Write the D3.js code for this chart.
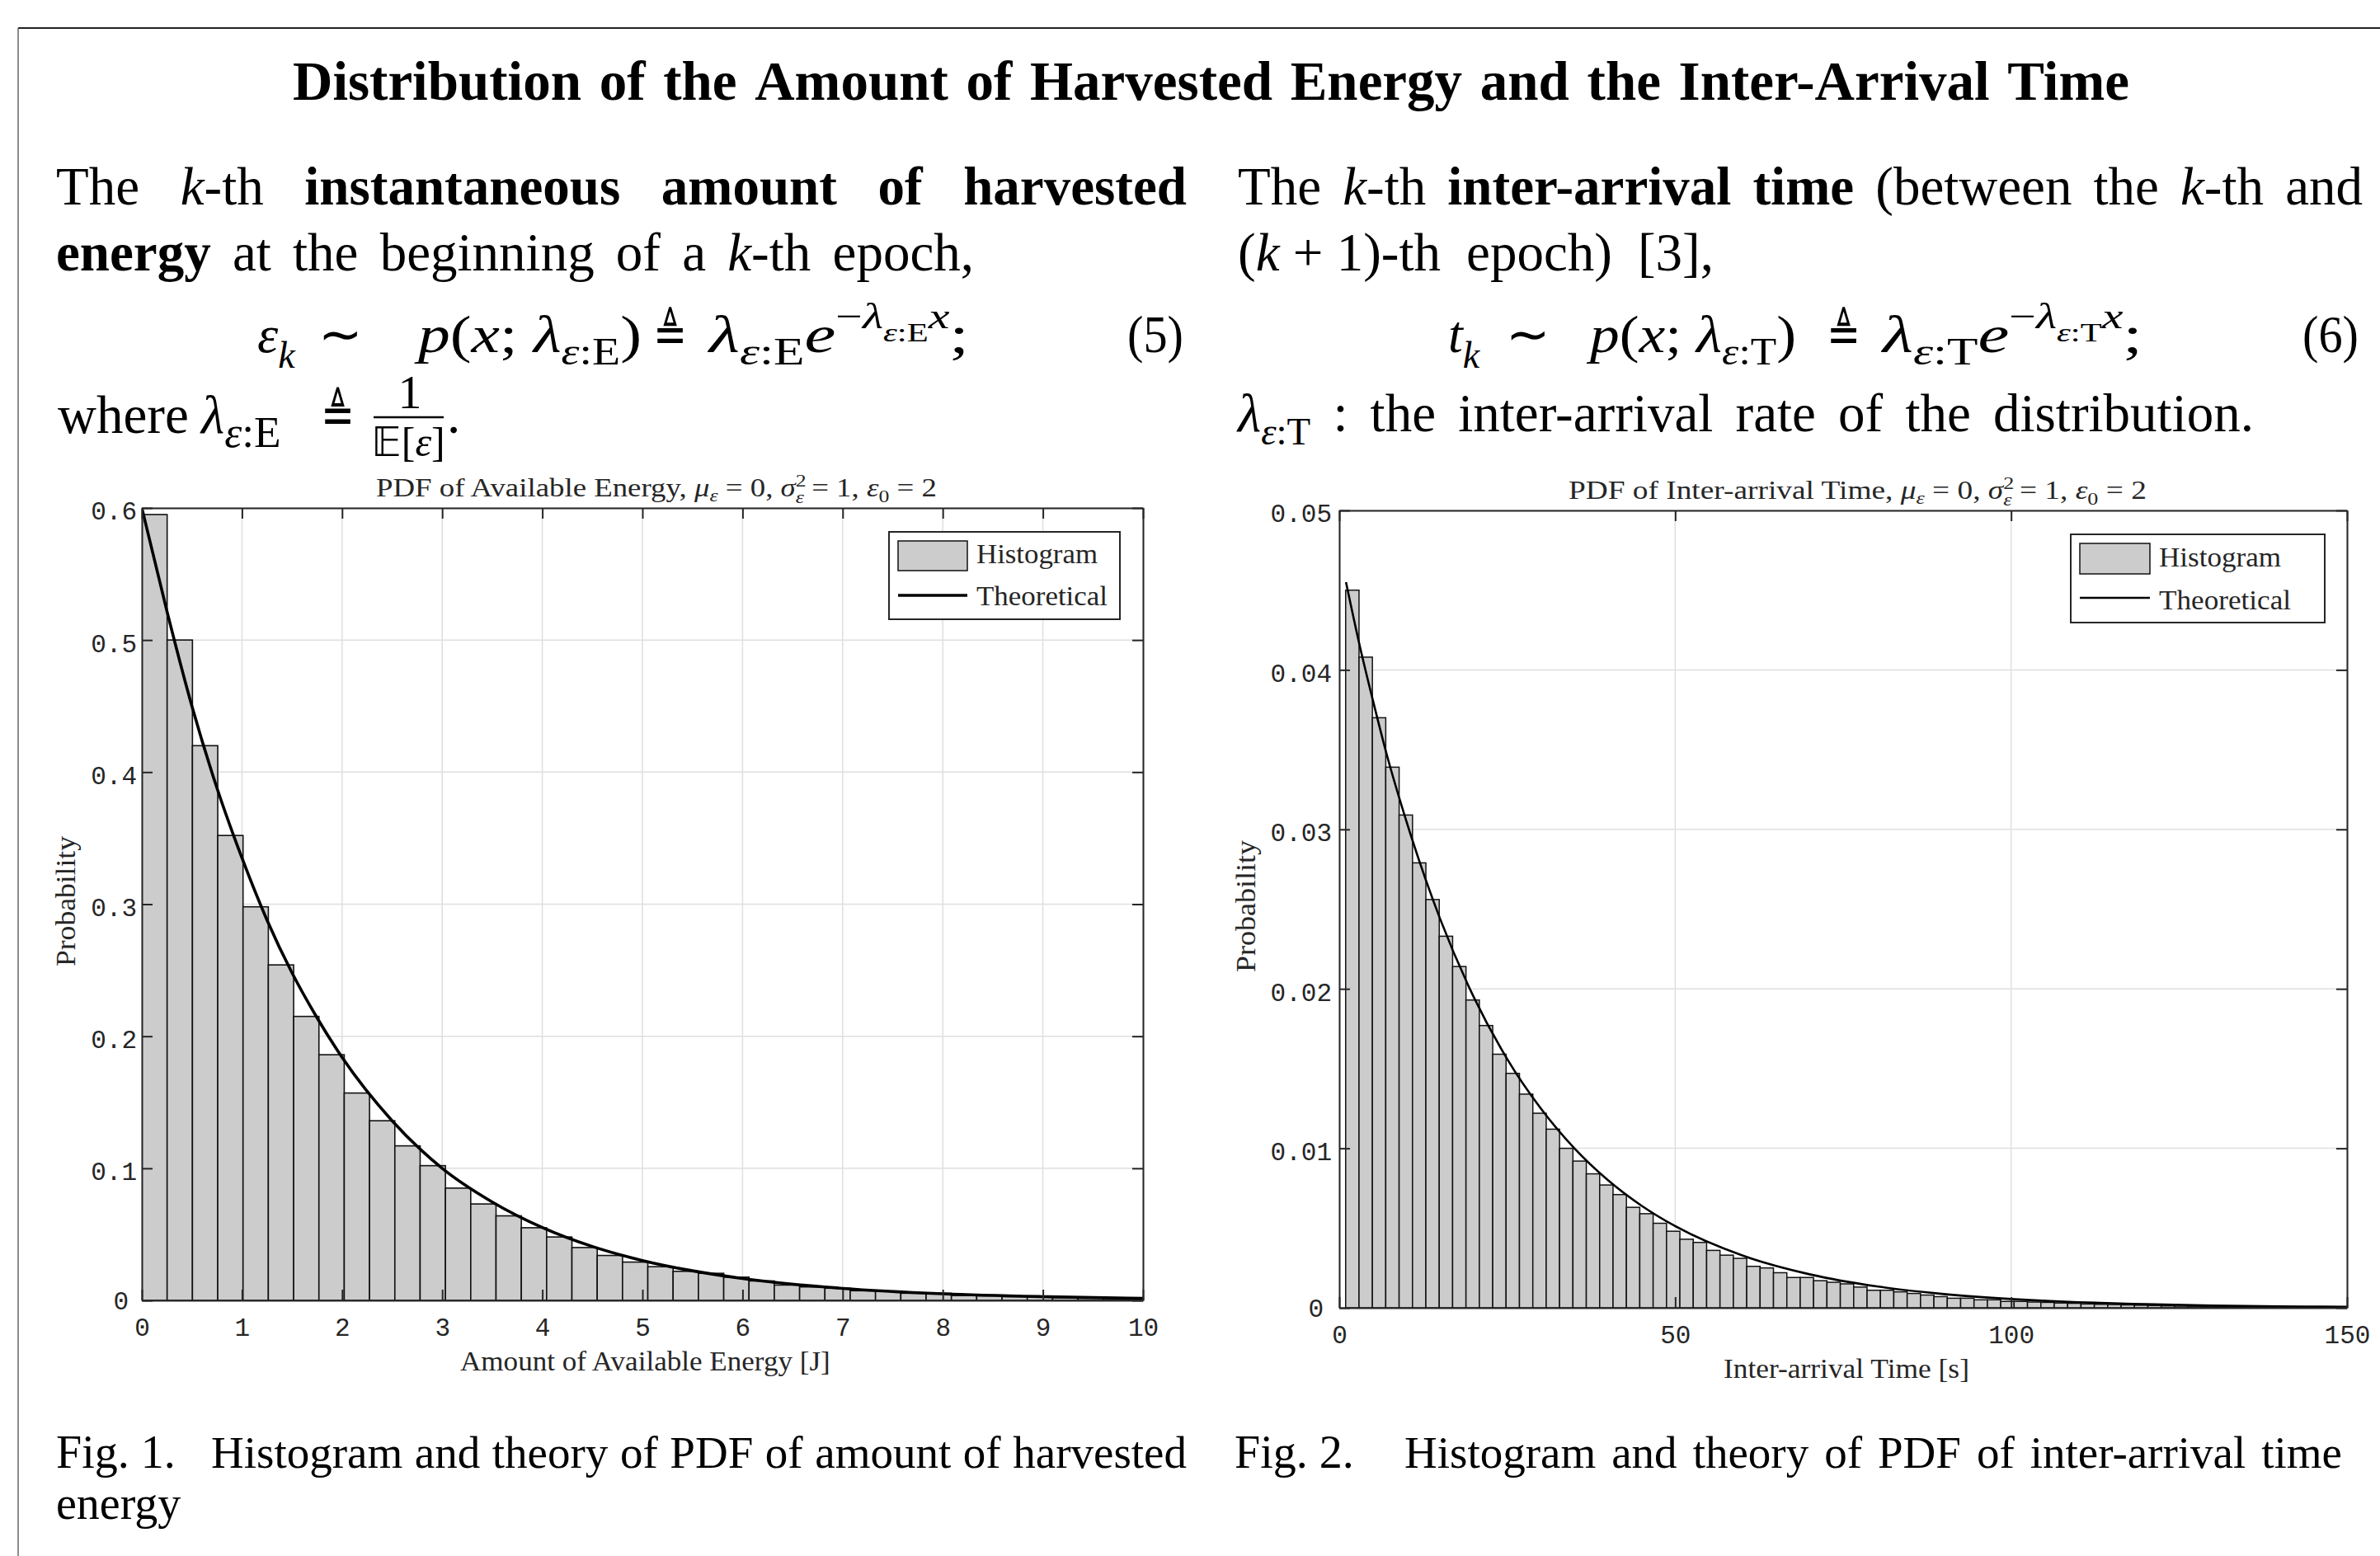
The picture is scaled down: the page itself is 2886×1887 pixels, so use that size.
<!DOCTYPE html>
<html><head><meta charset="utf-8">
<script src="https://cdn.jsdelivr.net/npm/d3@7"></script>
<style>body{margin:0;background:#fff}svg{display:block}text{white-space:pre}</style>
</head><body>
<svg id="s" width="2886" height="1887"></svg>
<script>
// ---------------- DATA ----------------
const energyBinStart = 0;
const energyBinWidth = 0.2527;
const energyHist = [0.595,0.500,0.420,0.352,0.298,0.254,0.215,0.186,0.157,0.136,
  0.117,0.102,0.085,0.073,0.064,0.055,0.048,0.040,0.034,0.029,
  0.0255,0.022,0.0205,0.0176,0.0147,0.0116,0.0102,0.0092,0.0073,0.0069,
  0.0054,0.0054,0.0037,0.0035,0.0028,0.0028,0.0021,0.0016,0.0014,0.0012];
const energyCurveX = [0,0.25,0.5,0.75,1,1.25,1.5,1.75,2,2.5,3,3.5,4,4.5,5,5.5,6,7,8,9,10];
const energyCurveY = [0.600,0.522,0.450,0.388,0.335,0.288,0.248,0.214,0.184,0.136,0.100,0.0745,0.0552,0.0408,0.0302,0.0224,0.0166,0.0091,0.0050,0.0028,0.0015];
const energyXTicks = [0,1,2,3,4,5,6,7,8,9,10];
const energyYTicks = [0,0.1,0.2,0.3,0.4,0.5,0.6];
const energyYTickLabels = ['0','0.1','0.2','0.3','0.4','0.5','0.6'];

const timeBinStart = 0.95;
const timeBinWidth = 1.99;
const timeHist = [0.0450,0.0408,0.0370,0.0339,0.0309,0.0279,0.0256,0.0233,0.0214,0.0193,
  0.0177,0.0159,0.0147,0.0134,0.0122,0.0112,0.0100,0.0092,0.0084,0.0077,
  0.0071,0.0063,0.0059,0.0053,0.0048,0.0043,0.0041,0.0036,0.0033,0.0031,
  0.0026,0.0025,0.0022,0.0019,0.0019,0.0017,0.0016,0.0015,0.0013,0.0011,
  0.0011,0.0010,0.0009,0.0008,0.0007,0.0006,0.0006,0.0005,0.0005,0.0004,
  0.0004,0.00036,0.00034,0.0003,0.00028,0.00024,0.00022,0.0002,0.00018,0.00016,
  0.00014,0.00012,0.0001,0.00009,0.00008,0.00007,0.00006,0.00005,0.00004,0.00003,
  0.00003,0.00002,0.00002,0.00001,0.00001];
const timeCurveX = [1,3,5,7,10,15,20,25,30,35,40,45,50,60,70,80,90,100,110,120,130,140,150];
const timeCurveY = [0.0455,0.0416,0.0381,0.0348,0.0305,0.0244,0.0195,0.0156,0.0125,0.0100,0.0080,0.0064,0.00512,0.00328,0.00210,0.00134,0.00086,0.00055,0.00035,0.00023,0.00014,0.00009,0.00006];
const timeXTicks = [0,50,100,150];
const timeYTicks = [0,0.01,0.02,0.03,0.04,0.05];
const timeYTickLabels = ['0','0.01','0.02','0.03','0.04','0.05'];

const titleText = 'Distribution of the Amount of Harvested Energy and the Inter-Arrival Time';
const legendLabels = ['Histogram','Theoretical'];

// ---------------- HELPERS ----------------
const svg = d3.select('#s');
const SERIF = "'Liberation Serif','Times New Roman',serif";
const MONO = "'Liberation Mono','Courier New',monospace";
const MATHF = "'DejaVu Sans','DejaVu Serif',sans-serif";

function makeText(parent, parts, base, fill) {
  const t = parent.append('text').attr('font-family', SERIF).attr('font-size', base).attr('fill', fill || '#000');
  let cur = 0;
  parts.forEach(p => {
    if (typeof p === 'string') p = {t: p};
    const o = p.o || 0;
    const ts = t.append('tspan').text(p.t).attr('font-size', base * (p.s || 1));
    if (p.i) ts.attr('font-style', 'italic');
    if (p.b) ts.attr('font-weight', 'bold');
    if (p.f) ts.attr('font-family', p.f);
    if (p.dx) ts.attr('dx', p.dx * base);
    if (o !== cur) { ts.attr('dy', (o - cur) * base); cur = o; }
  });
  return t;
}
function placeTokens(tokens, y0, base0, fill) {
  tokens.forEach(tk => {
    const y = tk.y != null ? tk.y : y0;
    const base = tk.base || base0;
    const g = svg.append('g');
    const t = makeText(g, tk.parts, base, fill);
    const w = t.node().getComputedTextLength();
    if (tk.x1 != null) {
      g.attr('transform', `translate(${tk.x},${y}) scale(${(tk.x1 - tk.x) / w},1)`);
    } else if (tk.anchor === 'middle') {
      g.attr('transform', `translate(${tk.x - w / 2},${y})`);
    } else {
      g.attr('transform', `translate(${tk.x},${y})`);
    }
  });
}
function justify(words, x0, x1, y, base, fill) {
  const items = words.map(parts => {
    const g = svg.append('g');
    const t = makeText(g, parts, base, fill);
    return {g, w: t.node().getComputedTextLength()};
  });
  const sum = d3.sum(items, d => d.w);
  const gap = items.length > 1 ? (x1 - x0 - sum) / (items.length - 1) : 0;
  let x = x0;
  items.forEach(it => { it.g.attr('transform', `translate(${x},${y})`); x += it.w + gap; });
}
const K = {t: 'k', i: 1};
const sub = (t, extra) => Object.assign({t, s: .72, o: .24}, extra || {});

// ---------------- FRAME ----------------
svg.append('line').attr('x1', 22).attr('x2', 2886).attr('y1', 34).attr('y2', 34).attr('stroke', '#222').attr('stroke-width', 2);
svg.append('line').attr('x1', 22).attr('x2', 22).attr('y1', 34).attr('y2', 1887).attr('stroke', '#666').attr('stroke-width', 1.5);

// ---------------- TITLE ----------------
justify(titleText.split(' ').map(w => [{t: w, b: 1}]), 355, 2582, 121, 67);

// ---------------- LEFT BODY ----------------
const BF = 65;
justify([['The'], [K, '-th'], [{t: 'instantaneous', b: 1}], [{t: 'amount', b: 1}], [{t: 'of', b: 1}], [{t: 'harvested', b: 1}]], 68, 1439, 248, BF);
justify([[{t: 'energy', b: 1}], ['at'], ['the'], ['beginning'], ['of'], ['a'], [K, '-th'], ['epoch,']], 68, 1181, 328, BF);
placeTokens([
  {x: 312, parts: [{t: 'ε', i: 1}, {t: 'k', i: 1, s: .72, o: .3}]},
  {x: 386, parts: [{t: '∼', f: MATHF, s: 1.0}]},
  {x: 507, x1: 778, parts: [{t: 'p', i: 1}, '(', {t: 'x', i: 1}, '; ', {t: 'λ', i: 1}, sub('ε', {i: 1}), sub(':E'), {t: ')'}]},
  {x: 792, x1: 833, parts: [{t: '≜', f: MATHF}]},
  {x: 860, x1: 1175, parts: [{t: 'λ', i: 1}, sub('ε', {i: 1}), sub(':E'), {t: 'e', i: 1}, {t: '−', s: .68, o: -.45}, {t: 'λ', i: 1, s: .68, o: -.45}, {t: 'ε', i: 1, s: .5, o: -.2}, {t: ':E', s: .5, o: -.2}, {t: 'x', i: 1, s: .68, o: -.45}, {t: ';'}]},
  {x: 1367, x1: 1435, parts: ['(5)']}
], 427, 64);
placeTokens([
  {x: 70, parts: ['where']},
  {x: 244, parts: [{t: 'λ', i: 1}, sub('ε', {i: 1, s: .82, o: .26}), sub(':E', {s: .82, o: .26})]},
  {x: 389, x1: 430, parts: [{t: '≜', f: MATHF}]},
  {x: 497, y: 495, anchor: 'middle', base: 58, parts: ['1']},
  {x: 495, y: 553, anchor: 'middle', base: 50, parts: [{t: '𝔼', f: MATHF}, '[', {t: 'ε', i: 1}, ']']},
  {x: 542, parts: ['.']}
], 525, BF);
svg.append('line').attr('x1', 453).attr('x2', 538).attr('y1', 506).attr('y2', 506).attr('stroke', '#000').attr('stroke-width', 2.5);

// ---------------- RIGHT BODY ----------------
justify([['The'], [K, '-th'], [{t: 'inter-arrival', b: 1}], [{t: 'time', b: 1}], ['(between'], ['the'], [K, '-th'], ['and']], 1501, 2865, 248, BF);
justify([['(', K, ' + 1)-th'], ['epoch)'], ['[3],']], 1501, 2078, 328, BF);
placeTokens([
  {x: 1756, parts: [{t: 't', i: 1}, {t: 'k', i: 1, s: .72, o: .3}]},
  {x: 1826, parts: [{t: '∼', f: MATHF, s: 1.0}]},
  {x: 1928, x1: 2178, parts: [{t: 'p', i: 1}, '(', {t: 'x', i: 1}, '; ', {t: 'λ', i: 1}, sub('ε', {i: 1}), sub(':T'), {t: ')'}]},
  {x: 2215, x1: 2256, parts: [{t: '≜', f: MATHF}]},
  {x: 2283, x1: 2598, parts: [{t: 'λ', i: 1}, sub('ε', {i: 1}), sub(':T'), {t: 'e', i: 1}, {t: '−', s: .68, o: -.45}, {t: 'λ', i: 1, s: .68, o: -.45}, {t: 'ε', i: 1, s: .5, o: -.2}, {t: ':T', s: .5, o: -.2}, {t: 'x', i: 1, s: .68, o: -.45}, {t: ';'}]},
  {x: 2792, x1: 2860, parts: ['(6)']}
], 427, 64);
justify([[{t: 'λ', i: 1}, sub('ε', {i: 1}), sub(':T')], [':'], ['the'], ['inter-arrival'], ['rate'], ['of'], ['the'], ['distribution.']], 1501, 2733, 523, BF);

// ---------------- CAPTIONS ----------------
placeTokens([{x: 68, parts: ['Fig. 1.']}, {x: 68, y: 1842, parts: ['energy']}, {x: 1497, parts: ['Fig. 2.']}], 1780, 56);
justify('Histogram and theory of PDF of amount of harvested'.split(' ').map(w => [w]), 256, 1439, 1780, 55);
justify('Histogram and theory of PDF of inter-arrival time'.split(' ').map(w => [w]), 1703, 2840, 1780, 55);

// ---------------- CHARTS ----------------
const INK = '#262626';
function drawChart(c) {
  const g = svg.append('g');
  const x = d3.scaleLinear().domain([0, c.xmax]).range([c.x0, c.x1]);
  const y = d3.scaleLinear().domain([0, c.ymax]).range([c.yb, c.yt]);
  const clipId = 'clip' + c.id;
  g.append('clipPath').attr('id', clipId).append('rect')
    .attr('x', c.x0).attr('y', c.yt).attr('width', c.x1 - c.x0).attr('height', c.yb - c.yt);
  g.append('rect').attr('x', c.x0).attr('y', c.yt).attr('width', c.x1 - c.x0).attr('height', c.yb - c.yt).attr('fill', '#fff');
  // grid
  g.append('g').selectAll('line').data(c.xTicks).join('line')
    .attr('x1', d => x(d)).attr('x2', d => x(d)).attr('y1', c.yt).attr('y2', c.yb)
    .attr('stroke', '#dfdfdf').attr('stroke-width', 1.5);
  g.append('g').selectAll('line').data(c.yTicks).join('line')
    .attr('x1', c.x0).attr('x2', c.x1).attr('y1', d => y(d)).attr('y2', d => y(d))
    .attr('stroke', '#dfdfdf').attr('stroke-width', 1.5);
  // bars
  const bins = c.hist.map((v, i) => ({a: c.binStart + i * c.binW, b: c.binStart + (i + 1) * c.binW, v}))
    .filter(d => d.a < c.xmax);
  const pg = g.append('g').attr('clip-path', `url(#${clipId})`);
  pg.selectAll('rect').data(bins).join('rect')
    .attr('x', d => x(d.a)).attr('width', d => x(d.b) - x(d.a))
    .attr('y', d => y(d.v)).attr('height', d => c.yb - y(d.v))
    .attr('fill', '#cccccc').attr('stroke', '#111').attr('stroke-width', c.barStroke);
  // curve
  const pts = c.curveX.map((v, i) => [v, c.curveY[i]]);
  pg.append('path').datum(pts)
    .attr('d', d3.line().x(d => x(d[0])).y(d => y(d[1])).curve(d3.curveMonotoneX))
    .attr('fill', 'none').attr('stroke', '#000').attr('stroke-width', c.curveW);
  // axes
  const styleAxis = sel => {
    sel.attr('font-family', MONO).attr('font-size', 31);
    sel.selectAll('.domain').attr('stroke', INK).attr('stroke-width', 2);
    sel.selectAll('.tick line').attr('stroke', INK).attr('stroke-width', 2);
    sel.selectAll('.tick text').attr('fill', INK);
  };
  g.append('g').attr('transform', `translate(0,${c.yb})`)
    .call(d3.axisBottom(x).tickValues(c.xTicks).tickFormat(d => String(d)).tickSizeInner(-13).tickSizeOuter(0).tickPadding(21))
    .call(styleAxis);
  g.append('g').attr('transform', `translate(0,${c.yt})`)
    .call(d3.axisTop(x).tickValues(c.xTicks).tickFormat('').tickSizeInner(-13).tickSizeOuter(0))
    .call(styleAxis);
  const ly = g.append('g').attr('transform', `translate(${c.x0},0)`)
    .call(d3.axisLeft(y).tickValues(c.yTicks).tickFormat((d, i) => c.yLabels[i]).tickSizeInner(-13).tickSizeOuter(0).tickPadding(c.yPad))
    .call(styleAxis);
  ly.selectAll('.tick text').attr('dy', d => d === 0 ? '0.34em' : '0.45em').attr('dx', d => d === 0 ? -10 : 0);
  g.append('g').attr('transform', `translate(${c.x1},0)`)
    .call(d3.axisRight(y).tickValues(c.yTicks).tickFormat('').tickSizeInner(-13).tickSizeOuter(0))
    .call(styleAxis);
  // title
  placeTokens([{x: c.titleX0, x1: c.titleX1, parts: c.titleParts}], c.titleY, 31, INK);
  // x label
  placeTokens([{x: c.xlabX0, x1: c.xlabX1, parts: [c.xlab]}], c.xlabY, 33, INK);
  // y label
  g.append('text').attr('transform', `translate(${c.ylabX},${(c.ylabY0 + c.ylabY1) / 2}) rotate(-90)`)
    .attr('text-anchor', 'middle').attr('font-family', SERIF).attr('font-size', 33).attr('fill', INK)
    .attr('textLength', c.ylabY1 - c.ylabY0).attr('lengthAdjust', 'spacingAndGlyphs').text('Probability');
  // legend
  const L = c.legend;
  g.append('rect').attr('x', L.x).attr('y', L.y).attr('width', L.w).attr('height', L.h)
    .attr('fill', '#fff').attr('stroke', INK).attr('stroke-width', 2);
  g.append('rect').attr('x', L.sx).attr('y', L.sy).attr('width', L.sw).attr('height', L.sh)
    .attr('fill', '#cccccc').attr('stroke', '#111').attr('stroke-width', 1.5);
  g.append('line').attr('x1', L.sx).attr('x2', L.sx + L.sw).attr('y1', L.ly).attr('y2', L.ly)
    .attr('stroke', '#000').attr('stroke-width', c.curveW);
  [[legendLabels[0], L.t1y, L.t1w], [legendLabels[1], L.t2y, L.t2w]].forEach(([s, yy, ww]) => {
    g.append('text').attr('x', L.tx).attr('y', yy).attr('font-family', SERIF).attr('font-size', 33)
      .attr('fill', INK).attr('textLength', ww).attr('lengthAdjust', 'spacingAndGlyphs').text(s);
  });
}
const paramParts = [{t: 'μ', i: 1}, {t: 'ε', i: 1, s: .7, o: .18}, {t: ' = 0, '}, {t: 'σ', i: 1}, {t: '2', s: .7, o: -.38},
  {t: 'ε', i: 1, s: .7, o: .25, dx: -.35}, {t: ' = 1, '}, {t: 'ε', i: 1}, {t: '0', s: .7, o: .22}, {t: ' = 2'}];

drawChart({
  id: 'L', x0: 172, x1: 1386, yt: 616, yb: 1577, xmax: 10, ymax: 0.6,
  xTicks: energyXTicks, yTicks: energyYTicks, yLabels: energyYTickLabels, yPad: 6,
  hist: energyHist, binStart: energyBinStart, binW: energyBinWidth, barStroke: 1.6,
  curveX: energyCurveX, curveY: energyCurveY, curveW: 3.6,
  titleParts: [{t: 'PDF of Available Energy, '}].concat(paramParts), titleX0: 456, titleX1: 1149, titleY: 602,
  xlab: 'Amount of Available Energy [J]', xlabX0: 558, xlabX1: 1007, xlabY: 1662,
  ylabX: 91, ylabY0: 1014, ylabY1: 1172,
  legend: {x: 1078, y: 645, w: 280, h: 106, sx: 1089, sy: 656, sw: 84, sh: 36, ly: 722, tx: 1184, t1y: 683, t2y: 734, t1w: 147, t2w: 159}
});
drawChart({
  id: 'R', x0: 1624, x1: 2846, yt: 619, yb: 1586, xmax: 150, ymax: 0.05,
  xTicks: timeXTicks, yTicks: timeYTicks, yLabels: timeYTickLabels, yPad: 9,
  hist: timeHist, binStart: timeBinStart, binW: timeBinWidth, barStroke: 1.5,
  curveX: timeCurveX, curveY: timeCurveY, curveW: 2.6,
  titleParts: [{t: 'PDF of Inter-arrival Time, '}].concat(paramParts), titleX0: 1902, titleX1: 2616, titleY: 605,
  xlab: 'Inter-arrival Time [s]', xlabX0: 2090, xlabX1: 2388, xlabY: 1671,
  ylabX: 1522, ylabY0: 1019, ylabY1: 1179,
  legend: {x: 2511, y: 648, w: 308, h: 107, sx: 2522, sy: 659, sw: 85, sh: 37, ly: 725, tx: 2618, t1y: 687, t2y: 739, t1w: 148, t2w: 160}
});
</script>
</body></html>
